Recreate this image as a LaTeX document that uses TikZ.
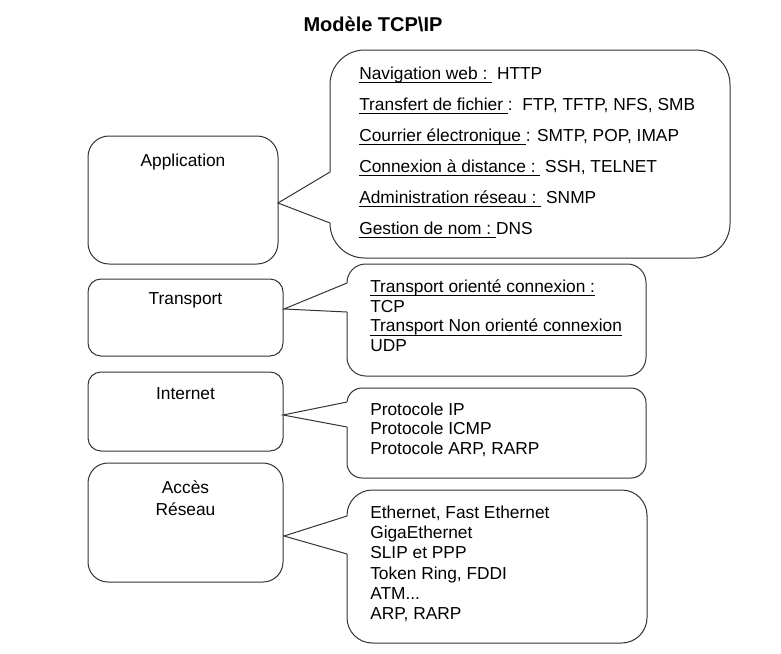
\documentclass[tikz,border=0pt]{standalone}
\usepackage{fontspec}
\setmainfont{Liberation Sans}
\newsavebox\soulbox
\newcommand\souligne[1]{\sbox\soulbox{#1}\rlap{\rule[-2.9pt]{\wd\soulbox}{.7pt}}\usebox\soulbox}
\tikzset{>=latex}
\tikzset{
    trait/.style={draw=black!80, line width=.75pt},
    texte/.style={font=\fontsize{13}{16.5}\selectfont, inner sep=0pt, yshift=-1.5pt},
    ligne/.style={texte, anchor=west, text height=9.5pt, text depth=2.8pt},
}

\begin{document}
\begin{tikzpicture}[x=.75pt, y=-.75pt]
    \useasboundingbox(0,0) rectangle (781,653);
    \node[font=\fontsize{15}{18}\selectfont\bfseries, inner sep=0pt](titre) at (373,24){Modèle TCP\textbackslash IP};

    % couches
    \draw[trait, rounded corners=15.75pt](88,136) rectangle (278,264);
    \node[texte](application) at (183,160){Application};
    \draw[trait, rounded corners=9.75pt](88,279) rectangle (283,356);
    \node[texte](transport) at (185.5,298){Transport};
    \draw[trait, rounded corners=9.75pt](88,372) rectangle (283,451);
    \node[texte](internet) at (185.5,392){Internet};
    \draw[trait, rounded corners=15pt](88,463) rectangle (283,582);
    \node[texte, align=center](acces) at (185.5,496){Accès\\Réseau};

    \coordinate(appP) at (278,203);
    \coordinate(traP) at (284,309);
    \coordinate(intP) at (283,415);
    \coordinate(accP) at (284,536);

    % bulles
    \draw[trait, rounded corners=26pt](330,50) rectangle (730,258);
    \coordinate(appA) at (330,172);
    \coordinate(appB) at (330,223);
    \fill[white]([xshift=.75pt]appA) -- (appP) -- ([xshift=.75pt]appB) -- cycle;
    \draw[trait](appA) -- (appP) -- (appB);

    \draw[trait, rounded corners=14pt](347,264) rectangle (646,376);
    \coordinate(traA) at (347,283);
    \coordinate(traB) at (347,312);
    \fill[white]([xshift=.75pt]traA) -- (traP) -- ([xshift=.75pt]traB) -- cycle;
    \draw[trait](traA) -- (traP) -- (traB);

    \draw[trait, rounded corners=11.25pt](347,388) rectangle (646,478);
    \coordinate(intA) at (347,402);
    \coordinate(intB) at (347,427);
    \fill[white]([xshift=.75pt]intA) -- (intP) -- ([xshift=.75pt]intB) -- cycle;
    \draw[trait](intA) -- (intP) -- (intB);

    \draw[trait, rounded corners=19pt](347,490) rectangle (647,643);
    \coordinate(accA) at (347,516);
    \coordinate(accB) at (347,554);
    \fill[white]([xshift=.75pt]accA) -- (accP) -- ([xshift=.75pt]accB) -- cycle;
    \draw[trait](accA) -- (accP) -- (accB);

    % protocoles
    \foreach \txt [count=\i from 0] in {
        {\souligne{Navigation web :\ }\ HTTP},
        {\souligne{Transfert de fichier\ }:\ \ FTP, TFTP, NFS, SMB},
        {\souligne{Courrier électronique\ }: SMTP, POP, IMAP},
        {\souligne{Connexion à distance :\ }\ SSH, TELNET},
        {\souligne{Administration réseau :\ }\ SNMP},
        {\souligne{Gestion de nom :\ }DNS}}
        \node[ligne](app-\i) at (359,73+31*\i){\txt};
    \foreach \txt [count=\i from 0] in {
        {\souligne{Transport orienté connexion :}},
        {TCP},
        {\souligne{Transport Non orienté connexion}},
        {UDP}}
        \node[ligne](tra-\i) at (370,286+19.7*\i){\txt};
    \foreach \txt [count=\i from 0] in {
        {Protocole IP},
        {Protocole ICMP},
        {Protocole ARP, RARP}}
        \node[ligne](int-\i) at (370,409+19.5*\i){\txt};
    \foreach \txt [count=\i from 0] in {
        {Ethernet, Fast Ethernet},
        {GigaEthernet},
        {SLIP et PPP},
        {Token Ring, FDDI},
        {ATM.{}.{}.},
        {ARP, RARP}}
        \node[ligne](acc-\i) at (370,512+20.2*\i){\txt};
\end{tikzpicture}
\end{document}
